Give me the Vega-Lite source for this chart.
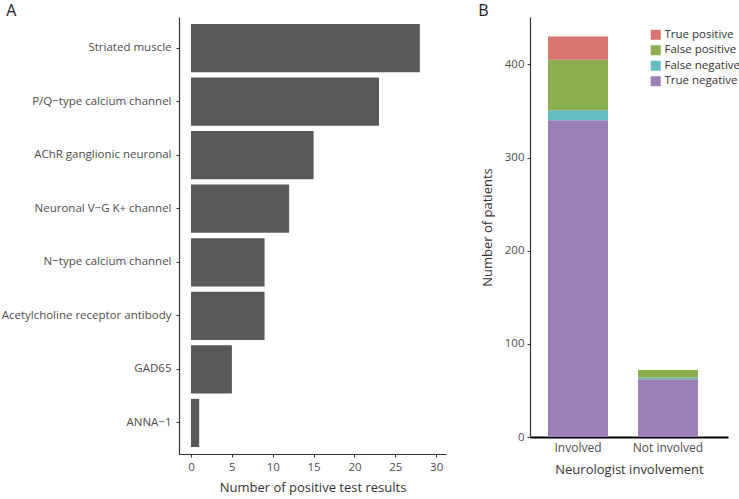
{
  "$schema": "https://vega.github.io/schema/vega-lite/v6.json",
  "background": "white",
  "padding": {"left": 1, "top": 3, "right": 0, "bottom": 0},
  "spacing": 32,
  "config": {
    "font": "Open Sans",
    "view": {"stroke": null},
    "axis": {
      "grid": false,
      "labelFont": "Open Sans",
      "titleFont": "Open Sans",
      "labelFontSize": 11.5,
      "labelColor": "#4D4D4D",
      "titleFontSize": 13,
      "titleFontWeight": "normal",
      "titleColor": "#333333",
      "domainColor": "#333333",
      "tickColor": "#333333",
      "tickSize": 3
    },
    "title": {"fontSize": 16, "fontWeight": "normal", "font": "Open Sans", "color": "#222222", "anchor": "start", "frame": "bounds", "offset": -2}
  },
  "datasets": {
    "antibodies": [
      {"antibody": "Striated muscle", "count": 28},
      {"antibody": "P/Q\u2212type calcium channel", "count": 23},
      {"antibody": "AChR ganglionic neuronal", "count": 15},
      {"antibody": "Neuronal V\u2212G K+ channel", "count": 12},
      {"antibody": "N\u2212type calcium channel", "count": 9},
      {"antibody": "Acetylcholine receptor antibody", "count": 9},
      {"antibody": "GAD65", "count": 5},
      {"antibody": "ANNA\u22121", "count": 1}
    ],
    "patients": [
      {"group": "Involved", "status": "True negative", "n": 340},
      {"group": "Involved", "status": "False negative", "n": 11},
      {"group": "Involved", "status": "False positive", "n": 54},
      {"group": "Involved", "status": "True positive", "n": 25},
      {"group": "Not involved", "status": "True negative", "n": 62},
      {"group": "Not involved", "status": "False negative", "n": 2},
      {"group": "Not involved", "status": "False positive", "n": 8},
      {"group": "Not involved", "status": "True positive", "n": 0}
    ]
  },
  "hconcat": [
    {
      "title": {"text": "A", "dx": 5},
      "width": 267,
      "height": 437,
      "data": {"name": "antibodies"},
      "mark": {"type": "bar", "color": "#595959"},
      "encoding": {
        "y": {
          "field": "antibody",
          "type": "nominal",
          "sort": null,
          "scale": {"paddingInner": 0.1, "paddingOuter": 0.13},
          "axis": {"title": null, "labelPadding": 5, "domainWidth": 1.2}
        },
        "x": {
          "field": "count",
          "type": "quantitative",
          "scale": {"domain": [-1.47, 31.2], "nice": false, "zero": false},
          "axis": {"title": "Number of positive test results", "values": [0, 5, 10, 15, 20, 25, 30], "labelPadding": 4, "titlePadding": 9, "domainWidth": 1.2}
        }
      }
    },
    {
      "title": {"text": "B", "dx": -3},
      "width": 198,
      "height": 420,
      "data": {"name": "patients"},
      "transform": [
        {"calculate": "indexof(['True negative','False negative','False positive','True positive'], datum.status)", "as": "stackorder"}
      ],
      "mark": {"type": "bar"},
      "encoding": {
        "x": {
          "field": "group",
          "type": "nominal",
          "scale": {"paddingInner": 0.3333, "paddingOuter": 0.2667, "align": 0.375},
          "axis": {"title": "Neurologist involvement", "labelAngle": 0, "ticks": false, "domainColor": "#000000", "domainWidth": 2, "labelPadding": 5, "titlePadding": 10, "labelFontSize": 12}
        },
        "y": {
          "field": "n",
          "type": "quantitative",
          "stack": "zero",
          "scale": {"domain": [0, 451], "nice": false},
          "axis": {"title": "Number of patients", "values": [0, 100, 200, 300, 400], "labelPadding": 3, "titlePadding": 10, "domainWidth": 1.2}
        },
        "color": {
          "field": "status",
          "type": "nominal",
          "scale": {
            "domain": ["True positive", "False positive", "False negative", "True negative"],
            "range": ["#D9756C", "#8BAE4E", "#67BDC4", "#9B7FB6"]
          },
          "legend": {
            "title": null,
            "orient": "none",
            "legendX": 471,
            "legendY": 12,
            "symbolType": "square",
            "symbolSize": 100,
            "symbolStrokeWidth": 0,
            "symbolOpacity": 1,
            "labelFontSize": 11.5,
            "labelColor": "#333333",
            "labelFont": "Open Sans",
            "rowPadding": 2.5,
            "labelOffset": 3
          }
        },
        "order": {"field": "stackorder", "type": "quantitative", "sort": "ascending"}
      }
    }
  ]
}
